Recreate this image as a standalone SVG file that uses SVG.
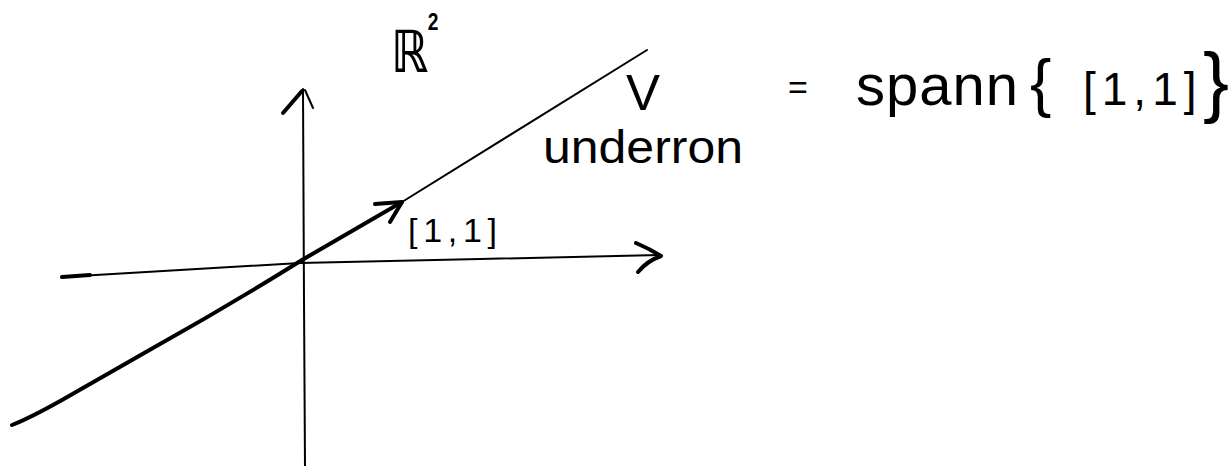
<svg xmlns="http://www.w3.org/2000/svg" width="1231" height="466" viewBox="0 0 1231 466">
<style>
.ink{fill:none;stroke:#000;stroke-linecap:round;stroke-linejoin:round}
.thin{stroke-width:2}
.thick{stroke-width:4}
.txt{fill:#000;font-family:"Liberation Sans","DejaVu Sans",sans-serif}
</style>
<rect width="1231" height="466" fill="#fff"/>
<g id="axes">
  <path class="ink thin" d="M305,466 L304,300 L303,89"/>
  <path class="ink thick" d="M283,113 L302,91"/>
  <path class="ink thin" d="M305,90 L313,108"/>
  <path class="ink thin" d="M62,277 L180,270 L300,263 L480,259 L660,255"/>
  <path class="ink thick" d="M62,277 L90,275"/>
  <path class="ink thick" d="M636,243 Q650,249 661,256 Q647,261 638,272"/>
</g>
<g id="line-V">
  <path class="ink thick" d="M12,425 Q30,418 62,400 L153,348 Q230,305 302,260 L402,202"/>
  <path class="ink thin" d="M402,202 L647,50"/>
  <path class="ink thick" d="M375,204 L402,202 L390,222"/>
</g>
<g id="labels">
  <text class="txt" transform="translate(391,72) scale(0.8,1)" font-family="DejaVu Sans" font-size="58" font-weight="bold">ℝ<tspan x="46" y="-42" font-size="24" font-weight="bold" font-family="Liberation Sans">2</tspan></text>
  <text class="txt" x="626" y="110" font-size="50" textLength="34" lengthAdjust="spacingAndGlyphs">V</text>
  <text class="txt" x="543" y="163" font-size="46" textLength="200" lengthAdjust="spacingAndGlyphs">underron</text>
  <text class="txt" x="408" y="242" font-size="34" textLength="89" lengthAdjust="spacing">[1,1]</text>
  <text class="txt" y="105"><tspan x="788" font-size="34" dy="-6">=</tspan><tspan x="856" font-size="58" dy="6" letter-spacing="1">spann</tspan><tspan x="1030" font-size="64">{</tspan><tspan x="1083" font-size="46" letter-spacing="6">[1,1]</tspan><tspan x="1203" font-size="78" dy="3">}</tspan></text>
</g>
</svg>
